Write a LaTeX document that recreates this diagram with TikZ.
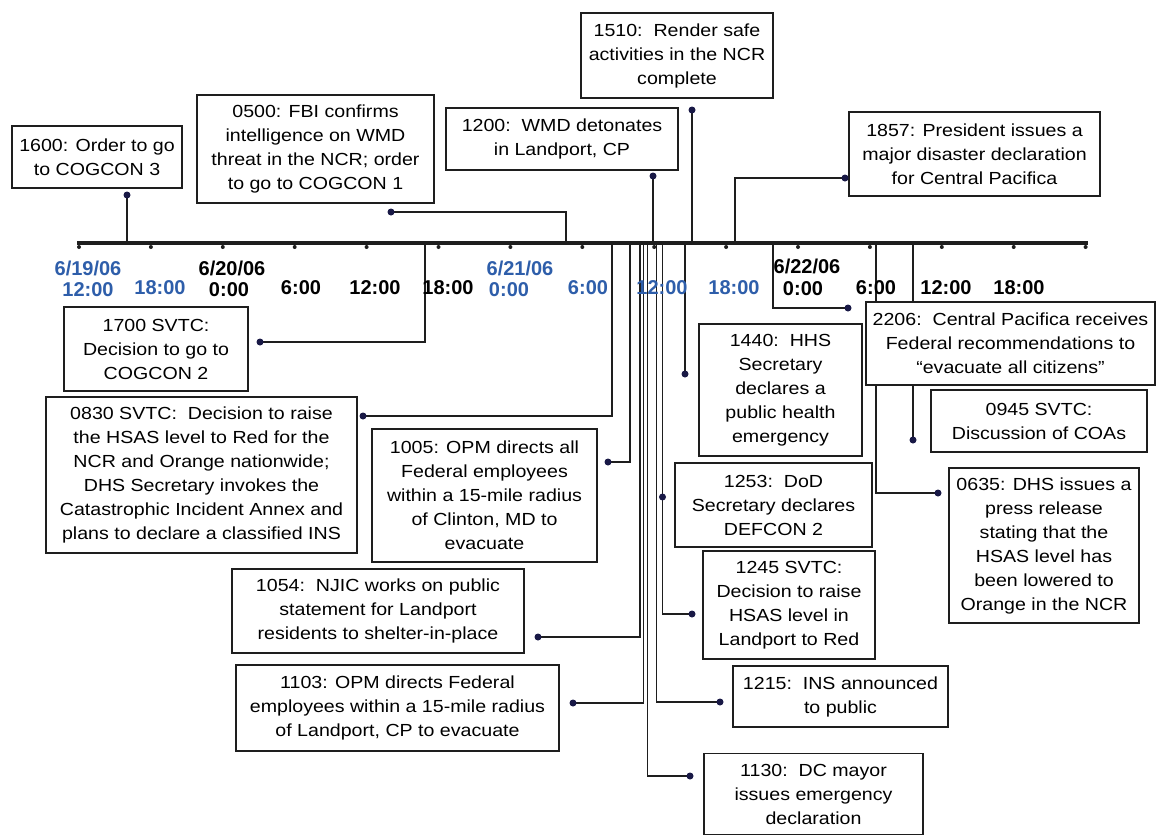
\documentclass[tikz,border=0pt]{standalone}
\usepackage{fontspec}
\setmainfont{Liberation Sans}
\newfontfamily\boxfont{Liberation Sans}[FakeStretch=1.12]
\definecolor{tlblue}{RGB}{46,94,170}
\definecolor{dotc}{RGB}{25,25,70}
\definecolor{linec}{RGB}{30,30,30}
\begin{document}
\begin{tikzpicture}[x=1pt,y=-1pt,
  evbox/.style={draw=linec, line width=1.3pt, fill=white, inner sep=0pt, align=center,
    font=\boxfont\fontsize{17.5}{24}\selectfont},
  evdot/.style={circle, fill=dotc, inner sep=0pt, minimum size=7pt},
  conn/.style={draw=linec, line width=1.4pt},
  tlab/.style={font=\bfseries\fontsize{20}{22}\selectfont, inner sep=0pt, align=center},
  bluelab/.style={tlab, text=tlblue},
]
\useasboundingbox (0,0) rectangle (1156,836);
\fill[white] (0,0) rectangle (1156,836);

% timeline anchor points
\coordinate (t1600) at (127,243);
\coordinate (t0500) at (566,243);
\coordinate (t1200) at (653,243);
\coordinate (t1510) at (692,243);
\coordinate (t1857) at (735,243);
\coordinate (t1700) at (425,243);
\coordinate (t0830) at (612,243);
\coordinate (t1005) at (630,243);
\coordinate (t1054) at (640,243);
\coordinate (t1103) at (643.5,243);
\coordinate (t1130) at (647.5,243);
\coordinate (t1215) at (656.5,243);
\coordinate (t1245) at (662.5,243);
\coordinate (t1253) at (662.5,243);
\coordinate (t1440) at (685,243);
\coordinate (t2206) at (773,243);
\coordinate (t0635) at (876,243);
\coordinate (t0945) at (913,243);

% dot positions
\coordinate (p1600) at (127,195);
\coordinate (p0500) at (391,212);
\coordinate (p1200) at (653,176);
\coordinate (p1510) at (692,110);
\coordinate (p1857) at (845,178);
\coordinate (p1700) at (260,342);
\coordinate (p0830) at (363,416);
\coordinate (p1005) at (608,462);
\coordinate (p1054) at (538,637);
\coordinate (p1103) at (573,703);
\coordinate (p1130) at (690,776);
\coordinate (p1215) at (720,702);
\coordinate (p1245) at (692,614);
\coordinate (p1253) at (662.5,497);
\coordinate (p1440) at (685,374);
\coordinate (p2206) at (848,308);
\coordinate (p0635) at (938,493);
\coordinate (p0945) at (913,440);

% connectors
\draw[conn] (t1600) -- (p1600);
\draw[conn] (t0500) |- (p0500);
\draw[conn] (t1200) -- (p1200);
\draw[conn] (t1510) -- (p1510);
\draw[conn] (t1857) |- (p1857);
\draw[conn] (t1700) |- (p1700);
\draw[conn] (t0830) |- (p0830);
\draw[conn] (t1005) |- (p1005);
\draw[conn] (t1054) |- (p1054);
\draw[conn] (t1103) |- (p1103);
\draw[conn] (t1130) |- (p1130);
\draw[conn] (t1215) |- (p1215);
\draw[conn] (t1245) |- (p1245);
\draw[conn] (t1253) -- (p1253);
\draw[conn] (t1440) -- (p1440);
\draw[conn] (t2206) |- (p2206);
\draw[conn] (t0635) |- (p0635);
\draw[conn] (t0945) -- (p0945);

% timeline
\coordinate (tlstart) at (77,243);
\coordinate (tlend) at (1088,243);
\draw[line width=3.5pt, linec] (tlstart) -- (tlend);
\foreach \k in {0,...,14} \fill[linec] ({79+71.9*\k},247) circle (2pt);

% tick labels
\node[bluelab] (l1) at (88,268) {6/19/06};
\node[bluelab] (l2) at (88,290) {12:00};
\node[bluelab] (l3) at (160,288) {18:00};
\node[tlab] (l4) at (232,268) {6/20/06};
\node[tlab] (l5) at (229,290) {0:00};
\node[tlab] (l6) at (301,288) {6:00};
\node[tlab] (l7) at (375,288) {12:00};
\node[tlab] (l8) at (448,288) {18:00};
\node[bluelab] (l9) at (520,268) {6/21/06};
\node[bluelab] (l10) at (509,290) {0:00};
\node[bluelab] (l11) at (588,288) {6:00};
\node[bluelab] (l12) at (662,288) {12:00};
\node[bluelab] (l13) at (734,288) {18:00};
\node[tlab] (l14) at (807,266) {6/22/06};
\node[tlab] (l15) at (803,289) {0:00};
\node[tlab] (l16) at (876,288) {6:00};
\node[tlab] (l17) at (946,288) {12:00};
\node[tlab] (l18) at (1019,288) {18:00};

% event boxes
\node[evbox, minimum width=170pt, minimum height=62pt] (b1600) at (97,157) {1600: Order to go\\to COGCON 3};
\node[evbox, minimum width=237pt, minimum height=108pt] (b0500) at (315.5,149) {0500: FBI confirms\\intelligence on WMD\\threat in the NCR; order\\to go to COGCON 1};
\node[evbox, minimum width=232pt, minimum height=62pt] (b1200) at (562,139) {1200:\ \ WMD detonates\\in Landport, CP};
\node[evbox, minimum width=192pt, minimum height=85pt] (b1510) at (677,55.5) {1510:\ \ Render safe\\activities in the NCR\\complete};
\node[evbox, minimum width=251pt, minimum height=84pt] (b1857) at (974.5,154) {1857: President issues a\\major disaster declaration\\for Central Pacifica};
\node[evbox, minimum width=184pt, minimum height=84pt] (b1700) at (156,349) {1700 SVTC:\\Decision to go to\\COGCON 2};
\node[evbox, minimum width=311pt, minimum height=156pt] (b0830) at (201.5,475) {0830 SVTC:\ \ Decision to raise\\the HSAS level to Red for the\\NCR and Orange nationwide;\\DHS Secretary invokes the\\Catastrophic Incident Annex and\\plans to declare a classified INS};
\node[evbox, minimum width=225pt, minimum height=133pt] (b1005) at (484.5,495.5) {1005: OPM directs all\\Federal employees\\within a 15-mile radius\\of Clinton, MD to\\evacuate};
\node[evbox, minimum width=292pt, minimum height=84pt] (b1054) at (378,611) {1054:\ \ NJIC works on public\\statement for Landport\\residents to shelter-in-place};
\node[evbox, minimum width=323pt, minimum height=86pt] (b1103) at (397.5,708) {1103: OPM directs Federal\\employees within a 15-mile radius\\of Landport, CP to evacuate};
\node[evbox, minimum width=163pt, minimum height=132pt] (b1440) at (780.5,390) {1440:\ \ HHS\\Secretary\\declares a\\public health\\emergency};
\node[evbox, minimum width=197pt, minimum height=84pt] (b1253) at (773.5,505) {1253:\ \ DoD\\Secretary declares\\DEFCON 2};
\node[evbox, minimum width=172pt, minimum height=108pt] (b1245) at (789,605) {1245 SVTC:\\Decision to raise\\HSAS level in\\Landport to Red};
\node[evbox, minimum width=215pt, minimum height=61pt] (b1215) at (840.5,696.5) {1215:\ \ INS announced\\to public};
\node[evbox, minimum width=219pt, minimum height=81pt] (b1130) at (813.5,794) {1130:\ \ DC mayor\\issues emergency\\declaration};
\node[evbox, minimum width=289pt, minimum height=83pt] (b2206) at (1010.5,343.5) {2206:\ \ Central Pacifica receives\\Federal recommendations to\\“evacuate all citizens”};
\node[evbox, minimum width=216pt, minimum height=62pt] (b0945) at (1039,421) {0945 SVTC:\\Discussion of COAs};
\node[evbox, minimum width=190pt, minimum height=155pt] (b0635) at (1044,545.5) {0635: DHS issues a\\press release\\stating that the\\HSAS level has\\been lowered to\\Orange in the NCR};

% dots
\foreach \p in {1600,0500,1200,1510,1857,1700,0830,1005,1054,1103,1130,1215,1245,1253,1440,2206,0635,0945}
  \node[evdot] (d\p) at (p\p) {};
\end{tikzpicture}
\end{document}
